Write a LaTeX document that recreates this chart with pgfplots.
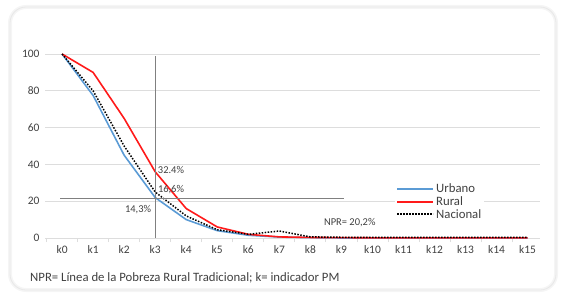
\documentclass[border=0pt]{standalone}
\usepackage{pgfplots}
\pgfplotsset{compat=1.18}
\usepackage{fontspec}
\setmainfont{Carlito}
\definecolor{urb}{HTML}{5B9BD5}
\definecolor{rur}{HTML}{FF1A1A}
\definecolor{gridc}{HTML}{DDDDDD}
\definecolor{refc}{HTML}{808080}
\definecolor{txt}{HTML}{404040}
\begin{document}
\begin{tikzpicture}[x=1bp,y=1bp]
\path (0,0) rectangle (561,297);
\draw[black!4,line width=4bp,rounded corners=16bp] (10,7) rectangle (556,290);
\draw[black!9,line width=0.8bp,rounded corners=16bp] (10,7) rectangle (556,290);
\begin{axis}[
  at={(45bp,59bp)}, anchor=south west,
  scale only axis, width=495bp, height=184bp,
  xmin=-0.55, xmax=15.4, ymin=0, ymax=100,
  axis line style={draw=none},
  xtick={0,...,15},
  xticklabels={k0,k1,k2,k3,k4,k5,k6,k7,k8,k9,k10,k11,k12,k13,k14,k15},
  minor xtick={-0.5,0.5,...,15.5},
  ytick={0,20,40,60,80,100},
  ymajorgrids, major grid style={gridc, line width=0.8bp},
  major tick length=0pt,
  minor tick length=4bp,
  xtick pos=bottom, ytick pos=left,
  minor tick style={gridc, line width=0.8bp},
  xtick align=outside,
  tick label style={font=\fontsize{11.5}{13}\selectfont, text=txt},
  xticklabel style={yshift=-4bp},
  yticklabel style={xshift=-2bp},
  /pgf/number format/assume math mode=true,
  clip=false,
  legend style={at={(0.707,0.313)}, anchor=north west, draw=none, fill=white,
    font=\fontsize{12.8}{13}\selectfont, text=txt, inner sep=1bp,
    row sep=-1.5bp, cells={anchor=west}},
  legend cell align=left,
  legend image code/.code={\draw[#1, line width=2bp] (0bp,0bp) -- (36bp,0bp);},
]
\addplot[gridc, line width=0.8bp, forget plot] coordinates {(-0.55,0) (15.4,0)};
\addplot[urb, line width=1.6bp] coordinates {
(0,100) (1,77.5) (2,45) (3,22) (4,10) (5,4) (6,1.5) (7,0.5) (8,0.2) (9,0) (10,0) (11,0) (12,0) (13,0) (14,0) (15,0)};
\addlegendentry{Urbano}
\addplot[rur, line width=1.6bp] coordinates {
(0,100) (1,90) (2,65) (3,36) (4,16) (5,6) (6,2) (7,0.6) (8,0.3) (9,0.2) (10,0.1) (11,0.1) (12,0.1) (13,0.1) (14,0.1) (15,0.1)};
\addlegendentry{Rural}
\addplot[black, line width=1.5bp, dash pattern=on 1.5bp off 1.5bp] coordinates {
(0,100) (1,80) (2,50) (3,25) (4,12) (5,4.5) (6,2) (7,3.8) (8,0.6) (9,0.4) (10,0.3) (11,0.3) (12,0.3) (13,0.3) (14,0.3) (15,0.3)};
\addlegendentry{Nacional}
\addplot[refc, line width=0.8bp, forget plot] coordinates {(3,0) (3,98.7)};
\addplot[refc, line width=0.8bp, forget plot] coordinates {(-0.06,21.5) (9.07,21.5)};
\node[text=txt, font=\fontsize{10.5}{12}\selectfont] at (axis cs:3.51,37.1) {32.4\%};
\node[text=txt, font=\fontsize{10.5}{12}\selectfont] at (axis cs:3.51,26.2) {16,6\%};
\node[text=txt, font=\fontsize{10.5}{12}\selectfont] at (axis cs:2.45,15.4) {14,3\%};
\node[text=txt, font=\fontsize{10.5}{12}\selectfont] at (axis cs:9.27,8.3) {NPR= 20,2\%};
\end{axis}
\node[anchor=west, text=txt, font=\fontsize{12.8}{14}\selectfont, inner sep=0pt] at (30,19) {NPR= Línea de la Pobreza Rural Tradicional; k= indicador PM};
\end{tikzpicture}
\end{document}
